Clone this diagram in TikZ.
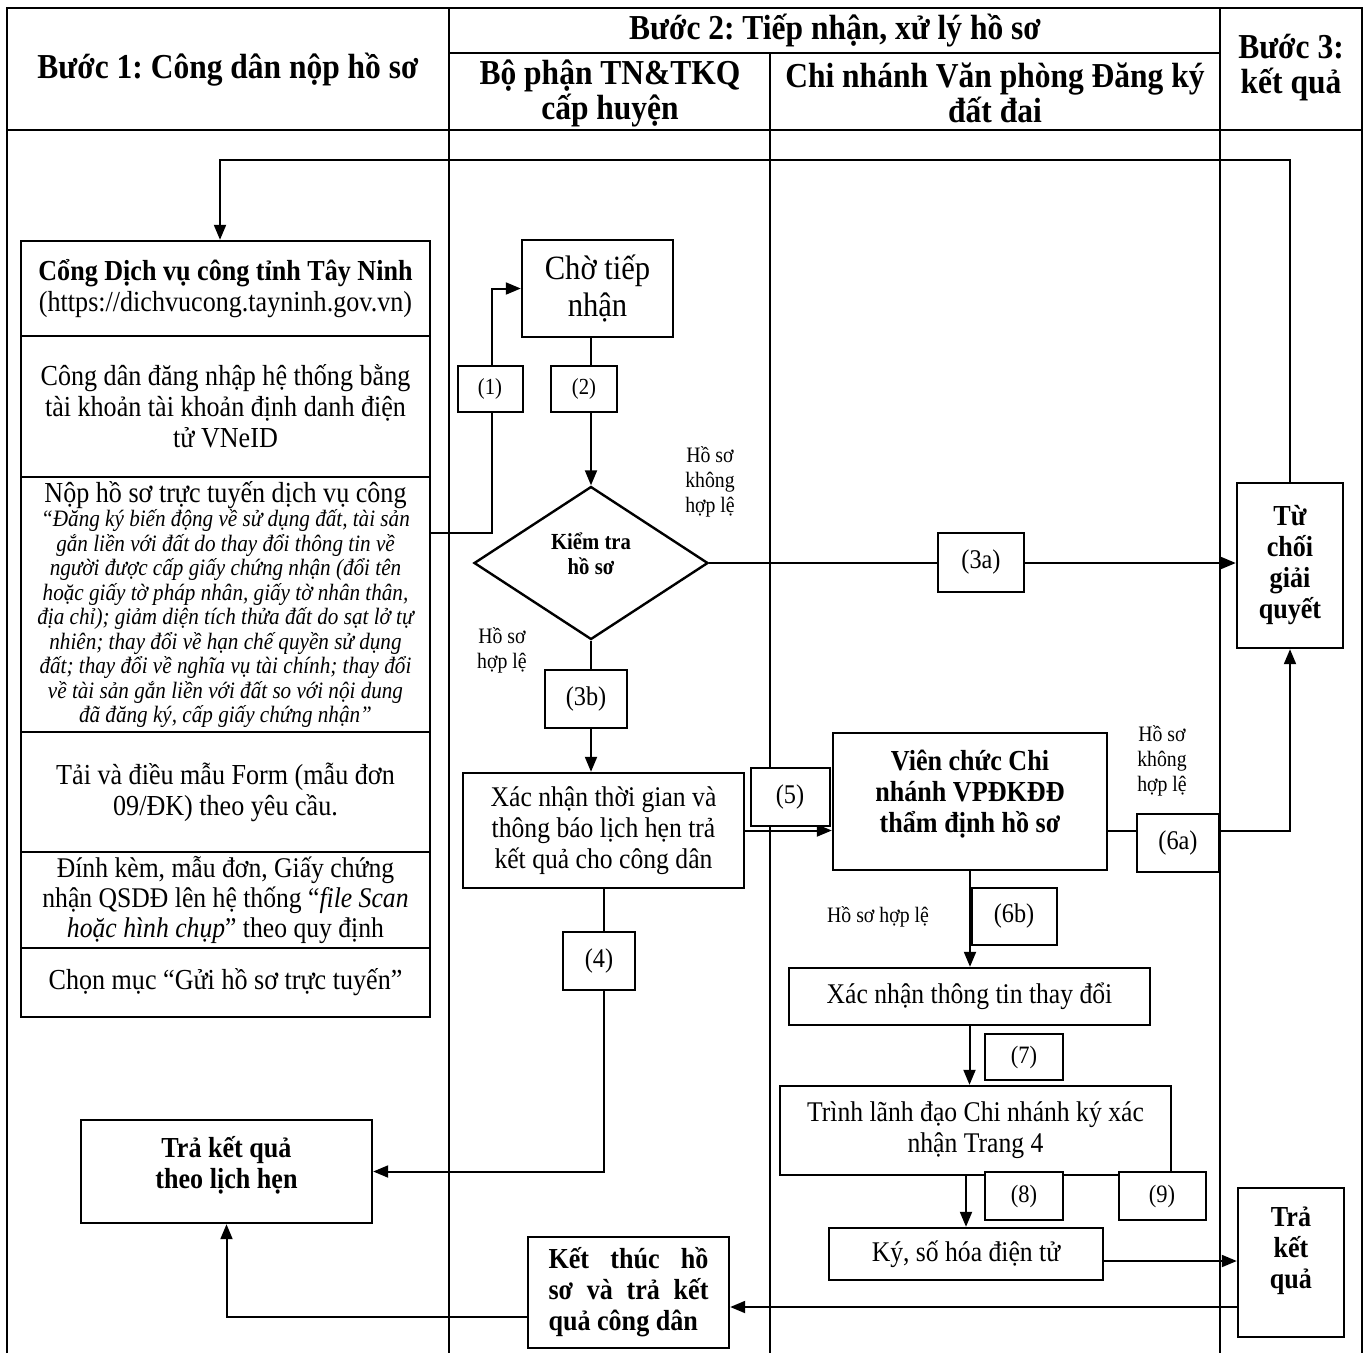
\documentclass[tikz,border=0pt]{standalone}
\usepackage{fontspec}
\setmainfont[FakeStretch=0.9]{Liberation Serif}
\usetikzlibrary{arrows.meta,shapes.geometric,positioning}
\frenchspacing

\begin{document}
\begin{tikzpicture}[
            x=1pt, y=-1pt,
            line width=2pt,
            >={Triangle[length=15pt,width=12pt]},
            box/.style={draw, fill=white, align=center, inner sep=0pt, line width=2.4pt},
            cell/.style={box, minimum width=409pt, font=\fontsize{29}{31}\selectfont},
            stepbox/.style={box, font=\fontsize{28.5}{31}\selectfont},
            boldbox/.style={box, font=\fontsize{29}{31}\selectfont\bfseries},
            numbox/.style={box, line width=2pt, font=\fontsize{27}{30}\selectfont},
            smallnum/.style={numbox, font=\fontsize{23}{26}\selectfont},
            note/.style={align=center, font=\fontsize{22}{25}\selectfont},
            head/.style={align=center, font=\fontsize{35}{35}\selectfont\bfseries},
            decision/.style={diamond, draw, fill=white, line width=2.4pt, inner sep=0pt, aspect=1.53, align=center, font=\fontsize{23}{25}\selectfont\bfseries},
            ]
            \useasboundingbox (0,0) rectangle (1366,1353);

            % khung bang
            \draw (7,1353) -- (7,8) -- (1362,8) -- (1362,1353);
            \draw (7,130) -- (1362,130);
            \draw (449,53) -- (1220,53);
            \draw (449,8) -- (449,1353);
            \draw (770,53) -- (770,1353);
            \draw (1220,8) -- (1220,1353);

            \node (H1) [head] at (228,70) {Bước 1: Công dân nộp hồ sơ};
            \node (H2) [head] at (835,31) {Bước 2: Tiếp nhận, xử lý hồ sơ};
            \node (H2a) [head] at (610,93) {Bộ phận TN\&TKQ\\cấp huyện};
            \node (H2b) [head] at (995,93) {Chi nhánh Văn phòng Đăng ký\\đất đai};
            \node (H3) [head] at (1291,68) {Bước 3:\\kết quả};

            % buoc 1
            \node (portal) [cell, minimum height=95pt] at (225.5,288.5) {\textbf{Cổng Dịch vụ công tỉnh Tây Ninh}\\(https://dichvucong.tayninh.gov.vn)};
            \node (login) [cell, minimum height=141pt] at (225.5,406.5) {Công dân đăng nhập hệ thống bằng\\tài khoản tài khoản định danh điện\\tử VNeID};
            \node (submit) [cell, minimum height=255pt, font=\itshape\fontsize{23.5}{24.5}\selectfont] at (225.5,604.5) {{\upshape\fontsize{29}{31}\selectfont Nộp hồ sơ trực tuyến dịch vụ công}\\
                “Đăng ký biến động về sử dụng đất, tài sản\\gắn liền với đất do thay đổi thông tin về\\người được cấp giấy chứng nhận (đổi tên\\hoặc giấy tờ pháp nhân, giấy tờ nhân thân,\\địa chỉ); giảm diện tích thửa đất do sạt lở tự\\nhiên; thay đổi về hạn chế quyền sử dụng\\đất; thay đổi về nghĩa vụ tài chính; thay đổi\\về tài sản gắn liền với đất so với nội dung\\đã đăng ký, cấp giấy chứng nhận”};
            \node (form) [cell, minimum height=120pt] at (225.5,792) {Tải và điều mẫu Form (mẫu đơn\\09/ĐK) theo yêu cầu.};
            \node (attach) [cell, minimum height=96pt, font=\fontsize{28.5}{30}\selectfont] at (225.5,900) {Đính kèm, mẫu đơn, Giấy chứng\\nhận QSDĐ lên hệ thống “\textit{file Scan}\\\textit{hoặc hình chụp}” theo quy định};
            \node (send) [cell, minimum height=69pt] at (225.5,982.5) {Chọn mục “Gửi hồ sơ trực tuyến”};
            \node (appoint) [boldbox, minimum width=291pt, minimum height=103pt, text depth=18pt] at (226.5,1171.5) {Trả kết quả\\theo lịch hẹn};

            % bo phan TN&TKQ
            \node (wait) [box, minimum width=151pt, minimum height=97pt, font=\fontsize{34}{37}\selectfont] at (597.5,288.5) {Chờ tiếp\\nhận};
            \node (check) [decision, minimum width=234pt, minimum height=153pt, text depth=18pt] at (591,563) {Kiểm tra\\hồ sơ};
            \node (sched) [stepbox, minimum width=281pt, minimum height=115pt] at (603.5,830.5) {Xác nhận thời gian và\\thông báo lịch hẹn trả\\kết quả cho công dân};
            \node (finish) [boldbox, minimum width=201pt, minimum height=111pt, align=left] at (628.5,1292.5) {\makebox[160pt][s]{Kết thúc hồ}\\\makebox[160pt][s]{sơ và trả kết}\\quả công dân};

            % chi nhanh VPDKDD
            \node (review) [boldbox, minimum width=274pt, minimum height=137pt, text depth=21pt] at (970,801.5) {Viên chức Chi\\nhánh VPĐKĐĐ\\thẩm định hồ sơ};
            \node (confirm) [stepbox, minimum width=361pt, minimum height=57pt] at (969.5,996.5) {Xác nhận thông tin thay đổi};
            \node (lead) [stepbox, minimum width=391pt, minimum height=89pt] at (975.5,1130.5) {Trình lãnh đạo Chi nhánh ký xác\\nhận Trang 4};
            \node (sign) [stepbox, minimum width=274pt, minimum height=52pt] at (966,1254) {Ký, số hóa điện tử};

            % buoc 3
            \node (reject) [boldbox, minimum width=106pt, minimum height=165pt] at (1290,565.5) {Từ\\chối\\giải\\quyết};
            \node (result) [boldbox, minimum width=106pt, minimum height=149pt, text depth=30pt] at (1291,1262.5) {Trả\\kết\\quả};

            \node (bad1) [note] at (710,482) {Hồ sơ\\không\\hợp lệ};
            \node (ok1) [note] at (502,650) {Hồ sơ\\hợp lệ};
            \node (bad2) [note] at (1162,761) {Hồ sơ\\không\\hợp lệ};
            \node (ok2) [note] at (878,917) {Hồ sơ hợp lệ};

            \coordinate (loop) at (220,160);
            \coordinate (j1) at (492,533);
            \coordinate (r1) at (1243,1307);
            \coordinate (r2) at (221,1317);

            \draw[->] (reject.north) |- (loop) -- (loop |- portal.north);
            \draw[->] (submit.east |- j1) -- (j1) |- (wait.west);
            \draw[->] (check.north |- wait.south) -- (check.north);
            \draw[->] (check.east) -- (check.east -| reject.west);
            \draw[->] (check.south) -- (check.south |- sched.north);
            \draw[->] (sched.south) |- (appoint.east);
            \draw[->] (sched.east) -- (sched.east -| review.west);
            \draw[->] (review.east |- sched.east) -| (reject.south);
            \draw[->] (review.south) -- (review.south |- confirm.north);
            \draw[->] (confirm.south) -- (confirm.south |- lead.north);
            \draw[->] (sign.north |- lead.south) -- (sign.north);
            \draw[->] ([yshift=-7pt]sign.east) -- ([yshift=-7pt]sign.east -| result.west);
            \draw[->] (r1 -| result.west) -- (r1 -| finish.east);
            \draw[->] (r2 -| finish.west) -| (appoint.south);

            % so buoc
            \node (n1) [smallnum, minimum width=65pt, minimum height=46pt] at (490,389) {(1)};
            \node (n2) [smallnum, minimum width=66pt, minimum height=46pt] at (584,389) {(2)};
            \node (n3a) [numbox, minimum width=86pt, minimum height=59pt] at (981,562) {(3a)};
            \node (n3b) [numbox, minimum width=82pt, minimum height=58pt] at (586,699) {(3b)};
            \node (n4) [numbox, minimum width=72pt, minimum height=58pt] at (599,961) {(4)};
            \node (n5) [numbox, minimum width=79pt, minimum height=58pt] at (790,797) {(5)};
            \node (n6a) [numbox, minimum width=82pt, minimum height=58pt] at (1178,843) {(6a)};
            \node (n6b) [numbox, minimum width=85pt, minimum height=57pt] at (1014,916) {(6b)};
            \node (n7) [numbox, minimum width=78pt, minimum height=46pt, font=\fontsize{25}{28}\selectfont] at (1024,1057) {(7)};
            \node (n8) [numbox, minimum width=78pt, minimum height=48pt, font=\fontsize{25}{28}\selectfont] at (1024,1196) {(8)};
            \node (n9) [numbox, minimum width=87pt, minimum height=48pt, font=\fontsize{25}{28}\selectfont] at (1162,1196) {(9)};
\end{tikzpicture}
\end{document}
